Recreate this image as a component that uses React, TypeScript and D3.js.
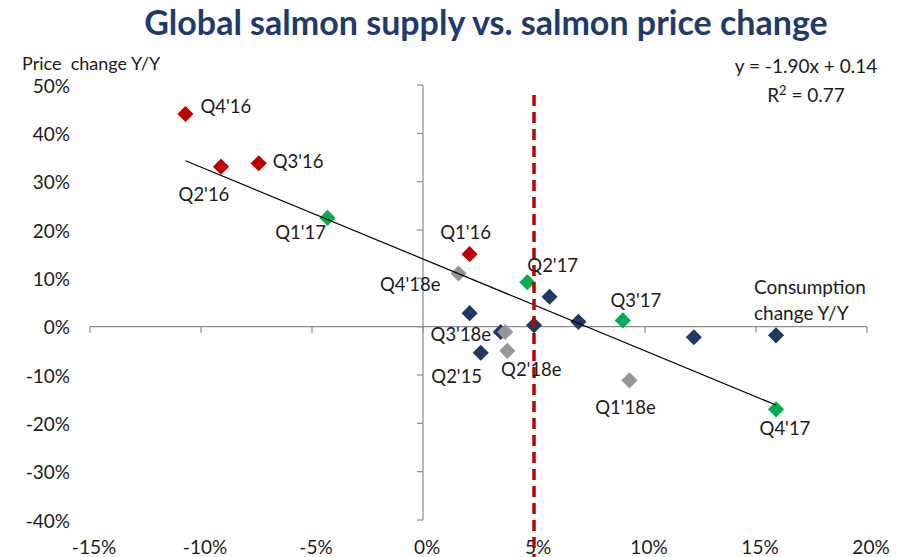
import React from 'react';
import * as d3 from 'd3';

// quarterly points: x = consumption change Y/Y, y = price change Y/Y
const pts2016 = [
  { x: -0.107, y: 0.44, label: "Q4'16" },
  { x: -0.091, y: 0.331, label: "Q2'16" },
  { x: -0.074, y: 0.338, label: "Q3'16" },
  { x: 0.021, y: 0.15, label: "Q1'16" },
];
const pts2017 = [
  { x: -0.043, y: 0.225, label: "Q1'17" },
  { x: 0.047, y: 0.092, label: "Q2'17" },
  { x: 0.09, y: 0.013, label: "Q3'17" },
  { x: 0.159, y: -0.171, label: "Q4'17" },
];
const ptsHistory = [
  { x: 0.057, y: 0.062, label: '' },
  { x: 0.021, y: 0.028, label: '' },
  { x: 0.05, y: 0.003, label: '' },
  { x: 0.07, y: 0.01, label: '' },
  { x: 0.026, y: -0.054, label: "Q2'15" },
  { x: 0.035, y: -0.011, label: '' },
  { x: 0.122, y: -0.022, label: '' },
  { x: 0.159, y: -0.018, label: '' },
];
const pts2018e = [
  { x: 0.016, y: 0.11, label: "Q4'18e" },
  { x: 0.037, y: -0.011, label: "Q3'18e" },
  { x: 0.038, y: -0.05, label: "Q2'18e" },
  { x: 0.093, y: -0.111, label: "Q1'18e" },
];

const xTicks = [-0.15, -0.1, -0.05, 0, 0.05, 0.1, 0.15, 0.2];
const yTicks = [-0.4, -0.3, -0.2, -0.1, 0, 0.1, 0.2, 0.3, 0.4, 0.5];
const trendSlope = -1.9;
const trendIntercept = 0.14;
const trendRange = [-0.107, 0.159];
const supplyLine = 0.05;

// label placement relative to the marker, in px
const labelPos = {
  "Q4'16": [15, -7, 'start'],
  "Q3'16": [14, -2, 'start'],
  "Q2'16": [-17, 28, 'middle'],
  "Q1'16": [-4, -22, 'middle'],
  "Q1'17": [-27, 15, 'middle'],
  "Q2'17": [0, -17, 'start'],
  "Q3'17": [13, -20, 'middle'],
  "Q4'17": [9, 19, 'middle'],
  "Q4'18e": [-18, 11, 'end'],
  "Q3'18e": [-14, 3, 'end'],
  "Q2'18e": [24, 19, 'middle'],
  "Q1'18e": [-4, 27, 'middle'],
  "Q2'15": [-24, 24, 'middle'],
};

const groups = [
  { pts: ptsHistory, color: '#1F3864' },
  { pts: pts2016, color: '#C00000' },
  { pts: pts2017, color: '#00B050' },
  { pts: pts2018e, color: '#969696' },
];

const W = 903;
const H = 557;
const font = 'Lato, "Open Sans", sans-serif';
const textColor = '#1b1b1b';
const axisColor = '#8c8c8c';

export default function App() {
  const x = d3.scaleLinear().domain([-0.15, 0.2]).range([90, 867]);
  const y = d3.scaleLinear().domain([-0.4, 0.5]).range([520, 85]);
  const pct = (v: number) => `${Math.round(v * 100)}%`;
  const diamond = d3.symbol().type(d3.symbolSquare).size(130)();

  const x0 = x(0);
  const y0 = y(0);

  return (
    <svg width={W} height={H} style={{ position: 'fixed', left: 0, top: 0, background: '#fff' }}>
      <text x={486} y={35} textAnchor="middle" fontFamily={font} fontWeight={700}
        fontSize={34} fill="#1F3A6E">Global salmon supply vs. salmon price change</text>

      <text x={22} y={70} fontFamily={font} fontSize={18} fill={textColor}>Price{'\u00A0 '}change Y/Y</text>
      <text x={806} y={73} textAnchor="middle" fontFamily={font} fontSize={19} fill={textColor}>y = -1.90x + 0.14</text>
      <text x={806} y={102} textAnchor="middle" fontFamily={font} fontSize={19} fill={textColor}>
        R<tspan dy={-7} fontSize={13}>2</tspan><tspan dy={7}> = 0.77</tspan>
      </text>

      {/* axes crossing at zero */}
      <g stroke={axisColor} strokeWidth={1.2}>
        <line x1={x0} x2={x0} y1={y(0.5)} y2={y(-0.4)} />
        {yTicks.map(t => (
          <line key={t} x1={x0 - 6} x2={x0} y1={y(t)} y2={y(t)} />
        ))}
        <line x1={x(-0.15)} x2={x(0.2)} y1={y0} y2={y0} />
        {xTicks.map(t => (
          <line key={t} x1={x(t)} x2={x(t)} y1={y0} y2={y0 + 6} />
        ))}
      </g>

      {yTicks.map(t => (
        <text key={t} x={70} y={y(t) + 1} dy="0.35em" textAnchor="end" fontFamily={font}
          fontSize={19} fill={textColor}>{pct(t)}</text>
      ))}
      {xTicks.map(t => (
        <text key={t} x={x(t) + 4} y={547} dy="0.35em" textAnchor="middle" fontFamily={font}
          fontSize={19} fill={textColor}>{pct(t)}</text>
      ))}

      <text fontFamily={font} fontSize={19} fill={textColor}>
        <tspan x={754} y={294}>Consumption</tspan>
        <tspan x={754} y={320}>change Y/Y</tspan>
      </text>

      {groups.map((g, gi) => (
        <g key={gi} fill={g.color}>
          {g.pts.map((p, i) => (
            <path key={i} d={diamond} transform={`translate(${x(p.x)},${y(p.y)}) rotate(45)`} />
          ))}
        </g>
      ))}

      <line x1={x(trendRange[0])} y1={y(trendSlope * trendRange[0] + trendIntercept)}
        x2={x(trendRange[1])} y2={y(trendSlope * trendRange[1] + trendIntercept)}
        stroke="#000" strokeWidth={1.2} />

      <line x1={x(supplyLine)} x2={x(supplyLine)} y1={95} y2={H}
        stroke="#C00000" strokeWidth={3.5} strokeDasharray="11 6" />

      {groups.flatMap(g => g.pts).filter(p => p.label).map(p => {
        const [dx, dy, anchor] = labelPos[p.label];
        return (
          <text key={p.label} x={x(p.x) + dx} y={y(p.y) + dy} dy="0.35em" textAnchor={anchor}
            fontFamily={font} fontSize={18.5} fill={textColor}>{p.label}</text>
        );
      })}
    </svg>
  );
}
